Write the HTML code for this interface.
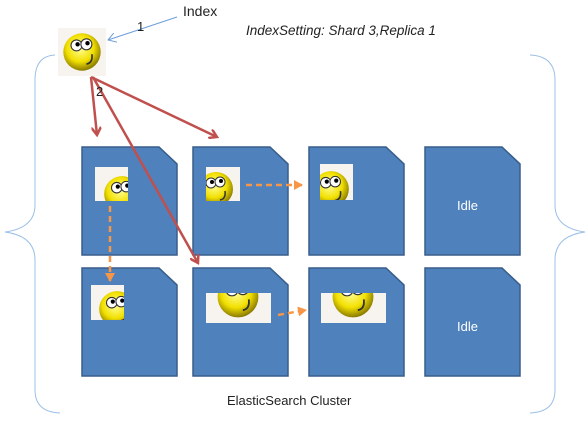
<!DOCTYPE html>
<html><head><style>body{margin:0;background:#fff}svg{display:block}</style></head><body>
<svg width="588" height="425" xmlns="http://www.w3.org/2000/svg" font-family="Liberation Sans, sans-serif">
<defs>
<radialGradient id="y" cx="0.45" cy="0.4" r="0.6"><stop offset="0" stop-color="#ffff9a"/><stop offset="0.6" stop-color="#f2e000"/><stop offset="1" stop-color="#8a7a00"/></radialGradient>
<marker id="ra" markerWidth="10" markerHeight="10" refX="8" refY="5" orient="auto" markerUnits="userSpaceOnUse"><path d="M0,0 L8,5 L0,10" fill="none" stroke="#c0504d" stroke-width="2.5"/></marker>
<marker id="oa" markerWidth="10" markerHeight="10" refX="8" refY="5" orient="auto" markerUnits="userSpaceOnUse"><path d="M0,0 L9,5 L0,10 Z" fill="#f79646"/></marker>
<marker id="ba" markerWidth="10" markerHeight="10" refX="8" refY="5" orient="auto" markerUnits="userSpaceOnUse"><path d="M0,0 L8,5 L0,10" fill="none" stroke="#6d9fd8" stroke-width="1"/></marker>
<symbol id="sm" viewBox="0 0 40 40"><circle cx="20" cy="20" r="17" fill="url(#y)"/><circle cx="15" cy="14" r="5" fill="#fff" stroke="#333"/><circle cx="24" cy="13" r="5" fill="#fff" stroke="#333"/><circle cx="16" cy="13" r="2" fill="#000"/><circle cx="25" cy="12" r="2" fill="#000"/><path d="M29,22 Q30,30 24,31" fill="none" stroke="#333" stroke-width="1.5"/></symbol>
<g id="tile"><path d="M0,0 H77 L95,17 V108 H0 Z" fill="#4f81bd" stroke="#385d8a" stroke-width="1.5"/></g>
</defs>
<path d="M55,55 Q35,56 35,80 L35,205 Q35,228 5,232 Q35,236 35,260 L35,390 Q35,412 60,413" fill="none" stroke="#9cc0e6" stroke-width="1"/>
<path d="M530,55 Q555,56 555,80 L555,205 Q555,228 585,232 Q555,236 555,260 L555,390 Q555,412 530,413" fill="none" stroke="#9cc0e6" stroke-width="1"/>
<use href="#tile" x="82" y="147"/><use href="#tile" x="193" y="147"/><use href="#tile" x="309" y="147"/><use href="#tile" x="425" y="147"/>
<use href="#tile" x="82" y="268"/><use href="#tile" x="193" y="268"/><use href="#tile" x="309" y="268"/><use href="#tile" x="425" y="268"/>
<svg x="95" y="167" width="33" height="34"><rect width="33" height="34" fill="#f7f3ee"/><use href="#sm" x="6" y="6" width="42" height="42"/></svg>
<svg x="206" y="167" width="34" height="34"><rect width="34" height="34" fill="#f7f3ee"/><use href="#sm" x="-10" y="2" width="40" height="40"/></svg>
<svg x="320" y="164" width="33" height="36"><rect width="33" height="36" fill="#f7f3ee"/><use href="#sm" x="-10" y="4" width="42" height="42"/></svg>
<svg x="91" y="285" width="33" height="35"><rect width="33" height="35" fill="#f7f3ee"/><use href="#sm" x="5" y="3" width="42" height="42"/></svg>
<svg x="206" y="293" width="65" height="30"><rect width="65" height="30" fill="#f7f3ee"/><use href="#sm" x="8" y="-20" width="48" height="48"/></svg>
<svg x="321" y="293" width="65" height="30"><rect width="65" height="30" fill="#f7f3ee"/><use href="#sm" x="8" y="-20" width="48" height="48"/></svg>
<rect x="58" y="28" width="48" height="48" fill="#f7f3ee"/><use href="#sm" x="60" y="30" width="44" height="44"/>
<line x1="177" y1="17" x2="108" y2="40" stroke="#6d9fd8" stroke-width="1" marker-end="url(#ba)"/>
<g stroke="#c0504d" stroke-width="2.5" fill="none">
<line x1="91" y1="77" x2="97" y2="135" marker-end="url(#ra)"/>
<line x1="91" y1="77" x2="217" y2="137" marker-end="url(#ra)"/>
<line x1="93" y1="77" x2="198" y2="263" marker-end="url(#ra)"/>
</g>
<g stroke="#f79646" stroke-width="2.5" stroke-dasharray="6,4" fill="none">
<line x1="246" y1="185" x2="302" y2="185" marker-end="url(#oa)"/>
<line x1="110" y1="206" x2="110" y2="281" marker-end="url(#oa)"/>
<line x1="278" y1="315" x2="306" y2="310" marker-end="url(#oa)"/>
</g>
<text x="183" y="16" font-size="14" fill="#222">Index</text>
<text x="137" y="31" font-size="13" fill="#222">1</text>
<text x="96" y="96" font-size="13" fill="#222">2</text>
<text x="246" y="35" font-size="13.5" font-style="italic" fill="#222">IndexSetting:  Shard 3,Replica 1</text>
<text x="457" y="210" font-size="13" fill="#fff">Idle</text>
<text x="457" y="331" font-size="13" fill="#fff">Idle</text>
<text x="227" y="405" font-size="13" fill="#222">ElasticSearch Cluster</text>
</svg>
</body></html>
